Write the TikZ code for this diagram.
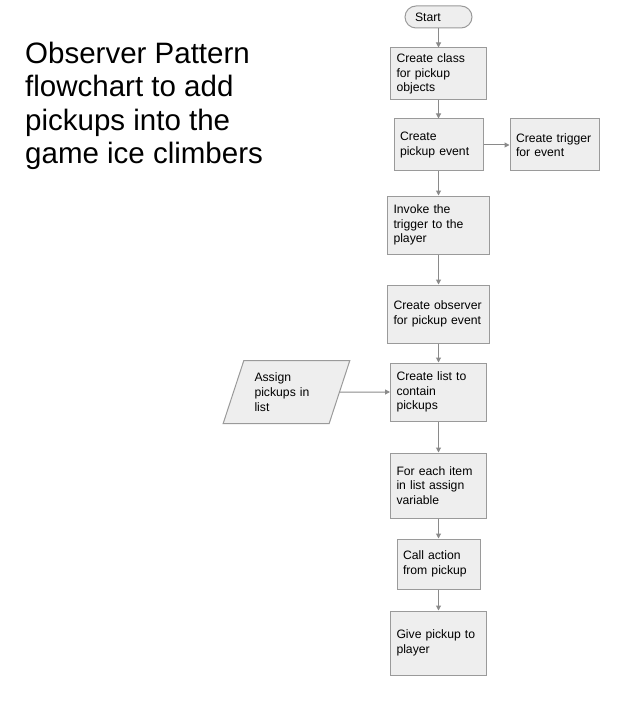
\documentclass[tikz,border=0pt]{standalone}
\usepackage{fontspec}
\setmainfont{Liberation Sans}
\usetikzlibrary{shapes.geometric,arrows.meta}
\definecolor{boxfill}{HTML}{EEEEEE}
\definecolor{boxline}{HTML}{9A9A9A}
\definecolor{flowline}{HTML}{8A8A8A}
\tikzset{
  stepbox/.style={draw=boxline,fill=boxfill,line width=1pt,rectangle,
    inner xsep=6pt,inner ysep=0pt,align=left,
    font=\fontsize{12.2}{14.7}\selectfont},
  iobox/.style={stepbox,trapezium,trapezium left angle=68,
    trapezium right angle=112,trapezium stretches=true,inner sep=0pt},
  flow/.style={draw=flowline,line width=1pt,
    -{Triangle[length=5pt,width=5pt]}},
}
\begin{document}
\begin{tikzpicture}[x=1pt,y=-1pt]
\useasboundingbox (0,0) rectangle (644,714);

\node [anchor=north west,inner sep=0pt,align=left,
       font=\fontsize{29.5}{33.3}\selectfont] (title) at (25,42)
      {Observer Pattern\\flowchart to add\\pickups into the\\game ice climbers};

\node [stepbox,rounded corners=11pt,inner xsep=10pt,text width=47pt,
       minimum height=22pt] (start)    at (438.5, 17)   {Start};
\node [stepbox,text width=84pt,minimum height=52pt] (class)    at (438.5, 74)   {Create class\\for pickup\\objects};
\node [stepbox,text width=77pt,minimum height=52pt] (event)    at (438.5,145)   {Create\\pickup event};
\node [stepbox,text width=77pt,minimum height=52pt] (trigger)  at (554.5,145)   {Create trigger\\for event};
\node [stepbox,text width=90pt,minimum height=58pt] (invoke)   at (438.5,225)   {Invoke the\\trigger to the\\player};
\node [stepbox,text width=90pt,minimum height=58pt] (observer) at (438.5,314)   {Create observer\\for pickup event};
\node [stepbox,text width=84pt,minimum height=58pt] (list)     at (438.5,392)   {Create list to\\contain\\pickups};
\node [iobox,text width=64pt,minimum width=127pt,
       minimum height=63pt]                        (assign)   at (286.5,392)   {Assign\\pickups in\\list};
\node [stepbox,text width=84pt,minimum height=65pt] (foreach)  at (438.5,485.5) {For each item\\in list assign\\variable};
\node [stepbox,text width=71pt,minimum height=50pt] (action)   at (438.5,564)   {Call action\\from pickup};
\node [stepbox,text width=84pt,minimum height=64pt] (give)     at (438.5,643)   {Give pickup to\\player};

\draw [flow] (start.south)    -- (class.north);
\draw [flow] (class.south)    -- (event.north);
\draw [flow] (event.east)     -- (trigger.west);
\draw [flow] (event.south)    -- (invoke.north);
\draw [flow] (invoke.south)   -- (observer.north);
\draw [flow] (observer.south) -- (list.north);
\draw [flow] (assign.east)    -- (list.west);
\draw [flow] (list.south)     -- (foreach.north);
\draw [flow] (foreach.south)  -- (action.north);
\draw [flow] (action.south)   -- (give.north);
\end{tikzpicture}
\end{document}
